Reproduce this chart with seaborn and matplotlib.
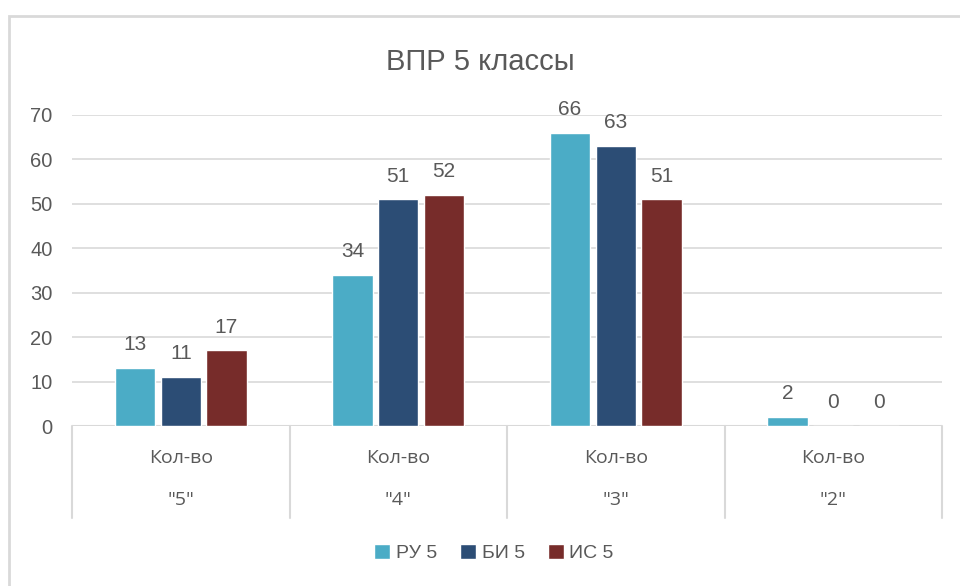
import seaborn as sns
import pandas as pd
import matplotlib.pyplot as plt
from matplotlib.patches import Rectangle

categories = ['"5"', '"4"', '"3"', '"2"']
series = ['РУ 5', 'БИ 5', 'ИС 5']
ru5 = [13, 34, 66, 2]
bi5 = [11, 51, 63, 0]
is5 = [17, 52, 51, 0]
colors = ['#4BACC6', '#2C4D75', '#772C2A']

rows = []
for name, vals in zip(series, [ru5, bi5, is5]):
    for cat, v in zip(categories, vals):
        rows.append({'cat': cat, 'series': name, 'value': v})
df = pd.DataFrame(rows)

sns.set_style('white')
plt.rcParams['font.family'] = ['Liberation Sans', 'DejaVu Sans']
text_col = '#595959'
grid_col = '#d9d9d9'

fig = plt.figure(figsize=(9.6, 5.86), dpi=100)
ax = fig.add_axes([72 / 960, 1 - 426 / 586, (942 - 72) / 960, (426 - 115) / 586])

sns.barplot(data=df, x='cat', y='value', hue='series', palette=colors,
            order=categories, hue_order=series, width=0.63, gap=0.12,
            saturation=1, ax=ax, legend=True)

ax.set_ylim(0, 70)
ax.set_xlim(-0.5, len(categories) - 0.5)
ax.set_yticks(range(0, 71, 10))
ax.yaxis.grid(True, color=grid_col, linewidth=1.2)
ax.set_axisbelow(True)
for s in ax.spines.values():
    s.set_visible(False)
ax.set_xlabel('')
ax.set_ylabel('')
ax.tick_params(axis='y', length=0, labelsize=14.5, labelcolor=text_col, pad=14)
ax.tick_params(axis='x', length=0)
ax.set_xticklabels([])

# baseline and category separators below the axis
ax.axhline(0, color=grid_col, linewidth=1.5, zorder=0)
trans = ax.get_xaxis_transform()
for i in range(len(categories) + 1):
    ax.plot([i - 0.5, i - 0.5], [0, -92 / 311], transform=trans,
            color=grid_col, linewidth=1.5, clip_on=False)
for i, cat in enumerate(categories):
    ax.text(i, -32 / 311, 'Кол-во', transform=trans, ha='center', va='center',
            fontsize=14, color=text_col, family=['Open Sans', 'DejaVu Sans'])
    ax.text(i, -74 / 311, cat, transform=trans, ha='center', va='center',
            fontsize=14, color=text_col, family=['Open Sans', 'DejaVu Sans'])

for cont in ax.containers:
    ax.bar_label(cont, padding=10, fontsize=15, color=text_col)

handles, labels = ax.get_legend_handles_labels()
ax.legend_.remove()
fig.legend(handles, labels, loc='center', bbox_to_anchor=(494 / 960, 1 - 553 / 586),
           ncol=3, frameon=False, fontsize=14, labelcolor=text_col,
           handlelength=0.8, handleheight=0.8, handletextpad=0.3, columnspacing=1.2)

fig.text(0.5, 1 - 62 / 586, 'ВПР 5 классы', ha='center', va='center',
         fontsize=21, color=text_col)

fig.patches.append(Rectangle((9 / 960, -0.05), 1.0, 1 - 16 / 586 + 0.05,
                             transform=fig.transFigure, fill=False,
                             edgecolor=grid_col, linewidth=2))

fig.savefig('out.png', dpi=100)
